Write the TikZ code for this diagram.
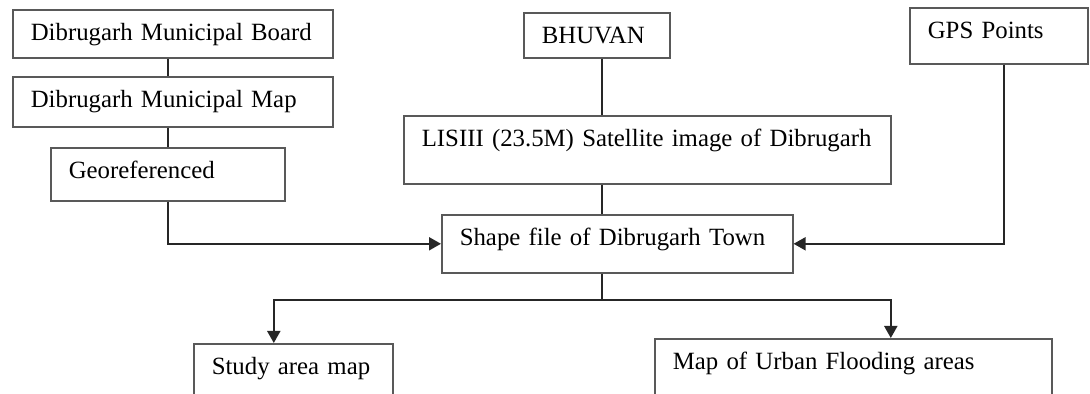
\documentclass[tikz,border=0pt]{standalone}
\usepackage{fontspec}
\setmainfont{Liberation Serif}
\usetikzlibrary{arrows.meta}

\begin{document}
\begin{tikzpicture}[x=0.5pt,y=-0.5pt]
\tikzstyle{blocco} = [draw=black!65, line width=0.8pt, anchor=north west, align=left,
  inner xsep=9pt, inner ysep=0pt, text height=15.5pt, font=\fontsize{12.4}{15}\selectfont,
  execute at begin node=\hbox\bgroup, execute at end node=\egroup]
\tikzstyle{linea} = [draw=black!85, line width=1pt]
\tikzstyle{freccia} = [linea, -{Triangle[length=6pt,width=6.5pt]}]
\useasboundingbox (0,0) rectangle (1090,394);
% left column
\node[blocco, text width=142pt, text depth=8.5pt] (board) at (12,9) {Dibrugarh Municipal Board};
\node[blocco, text width=142pt, text depth=9.5pt] (munmap) at (12,76) {Dibrugarh Municipal Map};
\node[blocco, text width=99pt, text depth=11pt] (georef) at (50,147) {Georeferenced};
% middle column
\node[blocco, text width=55pt, text depth=7pt] (bhuvan) at (523,12) {BHUVAN};
\node[blocco, text width=225.5pt, text depth=18.5pt] (liss) at (403,115) {LISIII (23.5M) Satellite image of Dibrugarh};
\node[blocco, text width=157.5pt, text depth=13.5pt] (shape) at (441,214) {Shape file of Dibrugarh Town};
% right column
\node[blocco, text width=71pt, text depth=12.5pt] (gps) at (909,7) {GPS Points};
% outputs
\node[blocco, text width=81.5pt, text depth=13pt] (study) at (193,343) {Study area map};
\node[blocco, text width=180.5pt, text depth=15.5pt] (urban) at (654,338) {Map of Urban Flooding areas};
\coordinate (asse) at (602,0);
\coordinate (nodo) at (602,300);
\draw[linea] (board.south -| georef.north) -- (munmap.north -| georef.north);
\draw[linea] (munmap.south -| georef.north) -- (georef.north);
\draw[freccia] (georef.south) |- (shape.west);
\draw[linea] (bhuvan.south -| asse) -- (liss.north -| asse);
\draw[linea] (liss.south -| asse) -- (shape.north -| asse);
\draw[freccia] ([xshift=2.5pt]gps.south) |- (shape.east);
\draw[linea] (shape.south -| nodo) -- (nodo);
\draw[freccia] (nodo) -| ([xshift=-9.75pt]study.north);
\draw[freccia] (nodo) -| ([xshift=18.75pt]urban.north);
\end{tikzpicture}
\end{document}
